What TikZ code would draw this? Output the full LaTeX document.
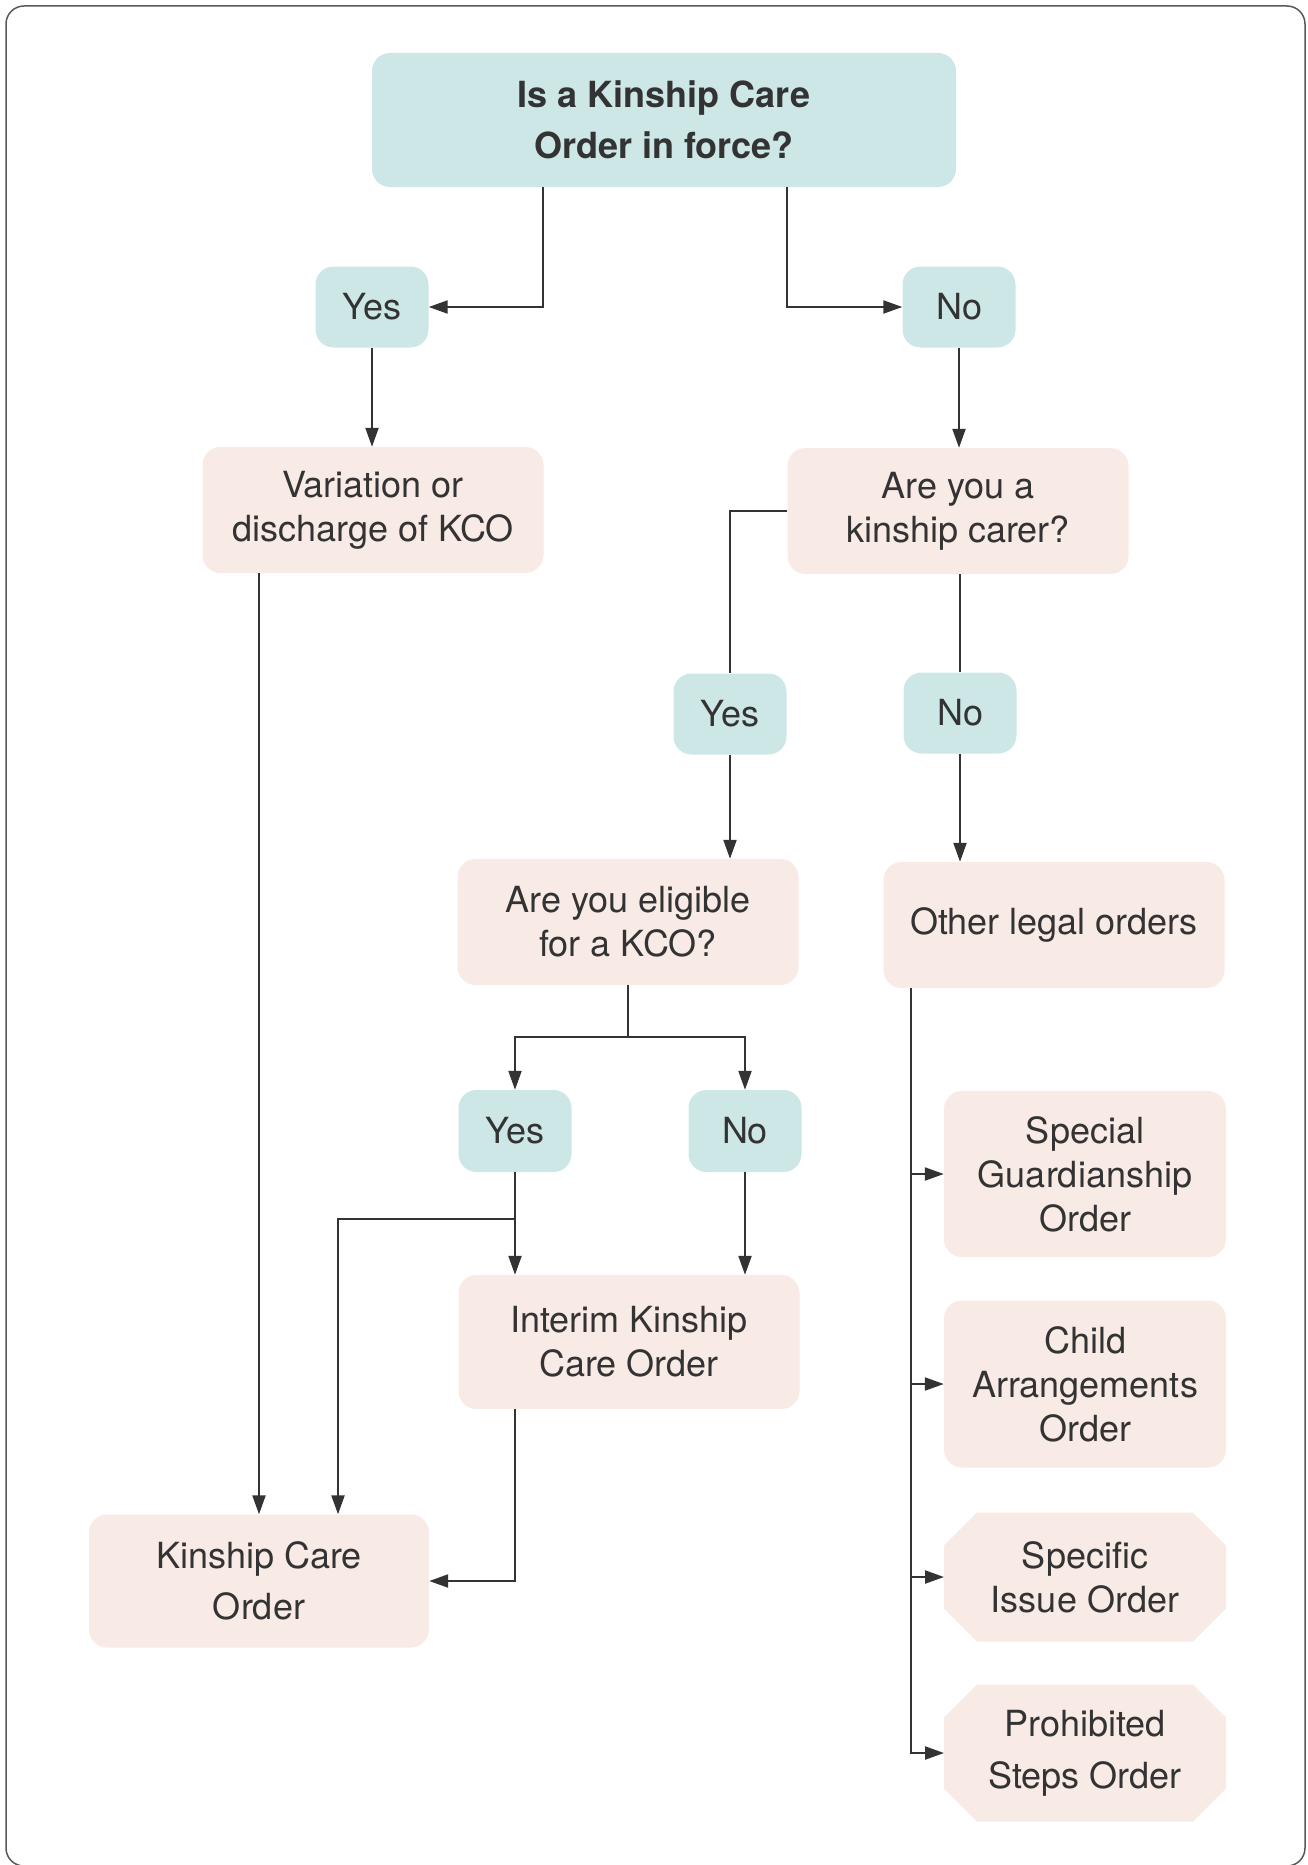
\documentclass[tikz,border=0pt]{standalone}
\usepackage{fontspec}
\setmainfont{TeX Gyre Heros}
\usepackage{tikz}
\usetikzlibrary{calc,arrows.meta,backgrounds}

\definecolor{kteal}{HTML}{CDE7E7}
\definecolor{kpink}{HTML}{F8EAE5}
\definecolor{kdark}{HTML}{333333}

\begin{document}
\begin{tikzpicture}[x=1pt,y=-1pt,
	font=\fontsize{36}{44}\selectfont,
	box/.style={rectangle,rounded corners=18pt,inner sep=0pt,align=center,text=kdark},
	choice/.style={box,fill=kteal,minimum width=113pt,minimum height=81pt},
	order/.style={box,fill=kpink,minimum width=341pt,minimum height=126pt},
	side/.style={order,minimum width=282pt},
	cut/.style={rectangle,inner sep=0pt,outer sep=0pt,align=center,text=kdark,minimum width=282pt},
	link/.style={draw=kdark,line width=2.2pt},
	arr/.style={link,-{Triangle[length=19pt,width=13pt]}}]

% frame %{{{2

	\useasboundingbox (0,0) rectangle (1307,1865);
	\draw[black!65,line width=1.5pt,rounded corners=18pt] (6,6) rectangle (1305,1866);

% question boxes %{{{2

	\node[box,fill=kteal,minimum width=584pt,minimum height=134pt,
		font=\fontsize{36}{51}\selectfont\bfseries] (top) at (664,120) {Is a Kinship Care\\Order in force?};
	\node[order] (carer) at (958,511) {Are you a\\kinship carer?};
	\node[order] (elig) at (628,922) {Are you eligible\\for a KCO?};

% answers %{{{2

	\node[choice] (yes1) at (372,307) {Yes};
	\node[choice] (no1) at (959,307) {No};
	\node[choice] (yes2) at (730,714) {Yes};
	\node[choice] (no2) at (960,713) {No};
	\node[choice,minimum height=82pt] (yes3) at (515,1131) {Yes};
	\node[choice,minimum height=82pt] (no3) at (745,1131) {No};

% orders %{{{2

	\node[order] (var) at (373,510) {Variation or\\discharge of KCO};
	\node[order] (other) at (1054,925) {Other legal orders};
	\node[order,minimum height=134pt] (interim) at (629,1342) {Interim Kinship\\Care Order};
	\node[order,minimum width=340pt,minimum height=133pt,
		font=\fontsize{36}{51}\selectfont] (kco) at (259,1581) {Kinship Care\\Order};

	\node[side,minimum height=166pt] (sgo) at (1085,1174) {Special\\Guardianship\\Order};
	\node[side,minimum height=167pt] (cao) at (1085,1384) {Child\\Arrangements\\Order};
	\node[cut,minimum height=129pt] (sio) at (1085,1577) {Specific\\Issue Order};
	\node[cut,minimum height=137pt,
		font=\fontsize{36}{52}\selectfont] (pso) at (1085,1753) {Prohibited\\Steps Order};

% chamfered backgrounds %{{{2

	\begin{scope}[on background layer]
		\foreach \n in {sio,pso} {
			\fill[kpink] ([xshift=33pt]\n.north west) -- ([xshift=-33pt]\n.north east)
				-- ([yshift=-33pt]\n.north east) -- ([yshift=33pt]\n.south east)
				-- ([xshift=-33pt]\n.south east) -- ([xshift=33pt]\n.south west)
				-- ([yshift=33pt]\n.south west) -- ([yshift=-33pt]\n.north west) -- cycle;
		}
	\end{scope}

% connectors %{{{2

	\draw[arr] ([xshift=-121pt]top.south) |- (yes1.east);
	\draw[arr] ([xshift=123pt]top.south) |- (no1.west);
	\draw[arr] (yes1.south) -- (yes1.south |- var.north);
	\draw[arr] (no1.south) -- (no1.south |- carer.north);

	\draw[link] (carer.west) -| (yes2.north);
	\draw[link] (no2.north |- carer.south) -- (no2.north);
	\draw[arr] (yes2.south) -- (yes2.south |- elig.north);
	\draw[arr] (no2.south) -- (no2.south |- other.north);

	\draw[link] (elig.south) -- ++(0,52) coordinate (split);
	\draw[arr] (split) -| (yes3.north);
	\draw[arr] (split) -| (no3.north);

	\draw[arr] (yes3.south) -- (yes3.south |- interim.north);
	\draw[arr] (no3.south) -- (no3.south |- interim.north);
	\draw[arr] ($(yes3.south)+(0,47)$) -| ([xshift=79pt]kco.north);
	\draw[arr] (yes3.south |- interim.south) |- (kco.east);
	\draw[arr] (kco.north |- var.south) -- (kco.north);

	\coordinate (stem) at ([xshift=-143pt]other.south);
	\foreach \n in {sgo,cao,sio,pso} { \draw[arr] (stem) |- (\n.west); }

% closing %{{{2

\end{tikzpicture}
\end{document}
